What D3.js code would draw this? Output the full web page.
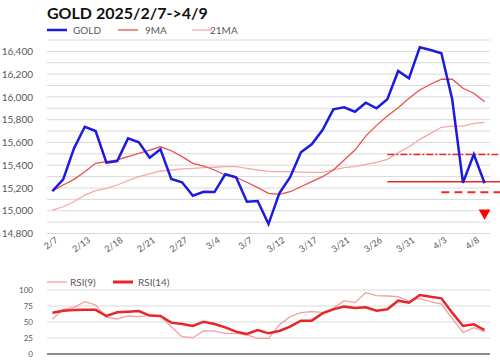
<!DOCTYPE html>
<html>
<head>
<meta charset="utf-8">
<script src="https://cdn.jsdelivr.net/npm/d3@7"></script>
<style>
  body { margin: 0; background: #fff; }
  svg { font-family: Lato, "Open Sans", sans-serif; }
</style>
</head>
<body>
<div id="chart"></div>
<script>
var dates = ["2/7","2/10","2/12","2/13","2/14","2/17","2/18","2/19","2/20","2/21",
             "2/24","2/25","2/27","2/28","3/3","3/4","3/5","3/6","3/7","3/10",
             "3/11","3/12","3/13","3/14","3/17","3/18","3/19","3/21","3/24","3/25",
             "3/26","3/27","3/28","3/31","4/1","4/2","4/3","4/7","4/7b","4/8","4/9"];
var tickDates = ["2/7","2/13","2/18","2/21","2/27","3/4","3/7","3/12","3/17","3/21","3/26","3/31","4/3","4/8"];

var gold = [15173,15276,15548,15738,15700,15422,15437,15636,15601,15466,
            15540,15279,15250,15132,15167,15164,15320,15294,15079,15085,
            14883,15153,15294,15513,15583,15709,15891,15909,15870,15949,
            15900,15979,16228,16163,16436,16412,16383,15979,15246,15496,15241];
var ma9 = [15173,15226,15276,15343,15417,15431,15446,15475,15504,15533,
           15562,15527,15475,15417,15393,15358,15314,15294,15250,15203,
           15153,15144,15167,15211,15255,15299,15358,15446,15533,15656,
           15750,15832,15905,15988,16061,16111,16155,16155,16076,16032,15958];
var ma21 = [15006,15035,15079,15138,15176,15197,15226,15264,15299,15323,
            15349,15358,15367,15373,15379,15382,15387,15387,15373,15358,
            15345,15343,15343,15340,15337,15337,15358,15379,15387,15408,
            15425,15452,15510,15562,15627,15680,15733,15744,15744,15768,15777];
var rsi9 = [54.2,69.8,72.9,81.8,76.6,57.3,54.7,59.4,58.3,60.4,
            59.4,42.7,27.1,25.5,36.5,35.9,32.3,32.3,29.7,24.5,
            24.5,45.3,58.3,64.6,66.1,65.0,71.4,83.3,80.2,95.8,
            91.1,90.6,89.6,82.8,87.0,81.8,78.1,55.8,33.3,41.1,34.9];
var rsi14 = [64.6,67.7,68.8,69.3,69.0,59.4,65.1,66.1,67.2,60.0,
             59.4,49.0,46.9,43.8,50.5,46.9,41.7,34.9,31.3,37.5,
             32.3,35.9,42.7,52.1,52.1,63.5,69.8,74.0,71.9,72.9,
             67.7,69.8,83.3,80.2,92.2,89.6,87.0,64.6,43.8,46.4,37.5];

// support / resistance marks: level, starting point index
var levels = [15495, 15255, 15162];
var levelStart = [31, 31, 36];
var levelDash = ["7,2,2,2", null, "8,5"];
var signalIndex = 40;
var signalValue = 14980;

var W = 500, H = 361;
var svg = d3.select("#chart").append("svg").attr("width", W).attr("height", H);

var x = d3.scalePoint().domain(d3.range(dates.length)).range([47, 490]).padding(0.5);
var y = d3.scaleLinear().domain([14800, 16500]).range([233.5, 40]);
var yr = d3.scaleLinear().domain([0, 100]).range([354, 290]);

// title
svg.append("text").attr("x", 47).attr("y", 19)
   .attr("font-size", 16).attr("font-weight", "bold").attr("fill", "#111")
   .text("GOLD 2025/2/7->4/9");

// legend
var leg = [["GOLD", "#1c1ce0", 2.5, 47, 73], ["9MA", "#e8504c", 1.3, 118, 145], ["21MA", "#f4a9a6", 1.3, 192, 210]];
leg.forEach(function(d) {
    svg.append("line").attr("x1", d[3]).attr("x2", d[3] + 20).attr("y1", 30).attr("y2", 30)
       .attr("stroke", d[1]).attr("stroke-width", d[2]);
    svg.append("text").attr("x", d[4]).attr("y", 34).attr("font-size", 10).attr("fill", "#595959").text(d[0]);
});

// grid
svg.append("g").selectAll("line").data(d3.range(14800, 16501, 100)).enter().append("line")
   .attr("x1", 47).attr("x2", 490)
   .attr("y1", function(d) { return y(d); }).attr("y2", function(d) { return y(d); })
   .attr("stroke", "#d9d9d9").attr("stroke-width", 1);

var yAxis = svg.append("g").attr("transform", "translate(36,0)")
   .call(d3.axisLeft(y).tickValues(d3.range(14800, 16401, 200)).tickFormat(d3.format(",")).tickSize(0));
yAxis.select(".domain").remove();
yAxis.selectAll("text").attr("font-size", 10).attr("fill", "#595959").attr("font-family", "Lato, sans-serif");

// x labels
var xAxis = svg.append("g").attr("transform", "translate(0,238)")
   .call(d3.axisBottom(x).tickValues(tickDates.map(function(t) { return dates.indexOf(t); }))
           .tickFormat(function(i) { return dates[i]; }).tickSize(0));
xAxis.select(".domain").remove();
xAxis.selectAll("text").attr("font-size", 9).attr("fill", "#595959").attr("font-family", "Lato, sans-serif")
   .attr("text-anchor", "end").attr("dy", "0.35em").attr("dx", "0.3em")
   .attr("transform", "rotate(-35)");

var line = function(arr, sc) {
    return d3.line().x(function(d, i) { return x(i); }).y(function(d) { return sc(d); })(arr);
};

svg.append("path").attr("d", line(ma21, y)).attr("fill", "none").attr("stroke", "#f4a9a6").attr("stroke-width", 1.3);
svg.append("path").attr("d", line(ma9, y)).attr("fill", "none").attr("stroke", "#e8504c").attr("stroke-width", 1.3);

levels.forEach(function(v, k) {
    svg.append("line").attr("x1", x(levelStart[k])).attr("x2", 500)
       .attr("y1", y(v)).attr("y2", y(v))
       .attr("stroke", "#ee2a2a").attr("stroke-width", k == 2 ? 2 : 1.5)
       .attr("stroke-dasharray", levelDash[k]);
});

svg.append("path").attr("d", line(gold, y)).attr("fill", "none").attr("stroke", "#1c1ce0")
   .attr("stroke-width", 2.5).attr("stroke-linejoin", "miter");

svg.append("path").attr("d", d3.symbol().type(d3.symbolTriangle).size(60))
   .attr("transform", "translate(" + x(signalIndex) + "," + y(signalValue) + ") rotate(180)")
   .attr("fill", "#ff0000");

// RSI panel
var rleg = [["RSI(9)", "#f4a09c", 1.3, 47, 70], ["RSI(14)", "#e8262a", 3, 113, 138]];
rleg.forEach(function(d) {
    svg.append("line").attr("x1", d[3]).attr("x2", d[3] + 20).attr("y1", 282).attr("y2", 282)
       .attr("stroke", d[1]).attr("stroke-width", d[2]);
    svg.append("text").attr("x", d[4]).attr("y", 286).attr("font-size", 10).attr("fill", "#595959").text(d[0]);
});

svg.append("g").selectAll("line").data([25, 50, 75, 100]).enter().append("line")
   .attr("x1", 47).attr("x2", 490)
   .attr("y1", function(d) { return yr(d); }).attr("y2", function(d) { return yr(d); })
   .attr("stroke", "#d9d9d9").attr("stroke-width", 1);
svg.append("line").attr("x1", 47).attr("x2", 490).attr("y1", yr(0)).attr("y2", yr(0))
   .attr("stroke", "#8c8c8c").attr("stroke-width", 2);

var rAxis = svg.append("g").attr("transform", "translate(36,0)")
   .call(d3.axisLeft(yr).tickValues([0, 25, 50, 75, 100]).tickSize(0));
rAxis.select(".domain").remove();
rAxis.selectAll("text").attr("font-size", 8).attr("fill", "#595959").attr("font-family", "Lato, sans-serif");

svg.append("path").attr("d", line(rsi9, yr)).attr("fill", "none").attr("stroke", "#f4a09c").attr("stroke-width", 1.3);
svg.append("path").attr("d", line(rsi14, yr)).attr("fill", "none").attr("stroke", "#e8262a").attr("stroke-width", 2.5);
</script>
</body>
</html>
